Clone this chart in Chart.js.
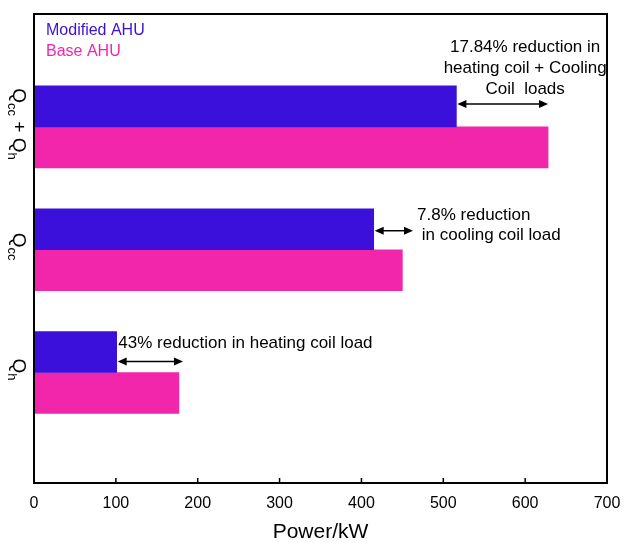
<!DOCTYPE html>
<html><head><meta charset="utf-8">
<script src="https://cdn.jsdelivr.net/npm/chart.js@4/dist/chart.umd.min.js"></script>
<style>html,body{margin:0;padding:0;background:#fff}#wrap{width:625px;height:543px}</style>
</head><body><div id="wrap"><canvas id="c" width="625" height="543"></canvas></div>
<script>
// ---- data ----
const categories = ['Q_h', 'Q_cc', 'Q_cc + Q_h'];
const seriesNames = ['Modified AHU', 'Base AHU'];
const modifiedAHU = [101, 415, 516];
const baseAHU = [177, 450, 628];
const xTicks = [0, 100, 200, 300, 400, 500, 600, 700];
const xTitle = 'Power/kW';
const noteTexts = [
  ['43% reduction in heating coil load'],
  ['7.8% reduction', ' in cooling coil load'],
  ['17.84% reduction in', 'heating coil + Cooling', 'Coil  loads']
];
// arrow ends (data units) per category
const arrowFrom = [101, 415, 516];
const arrowTo = [182, 463, 628];

// ---- style ----
const FONT = "'Liberation Sans', Arial, Helvetica, sans-serif";
const BLUE = '#3B10DA';
const PINK = '#F226AB';
Chart.defaults.font.family = FONT;

const noteStyle = [
  {x: 103, align: 'left', dy: [-29]},
  {x: 468, align: 'left', dy: [-34, -14]},
  {x: 600, align: 'center', dy: [-80, -59, -38]}
];
const arrowDy = [-11, -19, -23];

function drawArrow(ctx, x1, x2, y) {
  const L = 9, W = 4;
  ctx.save();
  ctx.strokeStyle = '#000'; ctx.fillStyle = '#000'; ctx.lineWidth = 1.5;
  ctx.beginPath(); ctx.moveTo(x1 + L - 1, y); ctx.lineTo(x2 - L + 1, y); ctx.stroke();
  ctx.beginPath(); ctx.moveTo(x1, y); ctx.lineTo(x1 + L, y - W); ctx.lineTo(x1 + L, y + W); ctx.closePath(); ctx.fill();
  ctx.beginPath(); ctx.moveTo(x2, y); ctx.lineTo(x2 - L, y - W); ctx.lineTo(x2 - L, y + W); ctx.closePath(); ctx.fill();
  ctx.restore();
}

function drawSubLabel(ctx, text, cx, cy) {
  const parts = text.split(/(_\w+)/).filter(p => p.length);
  const big = '19px ' + FONT, small = '13px ' + FONT;
  let total = 0;
  const items = parts.map(p => {
    const sub = p.startsWith('_');
    const t = sub ? p.slice(1) : p;
    ctx.font = sub ? small : big;
    const w = ctx.measureText(t).width;
    total += w;
    return {t, sub, w};
  });
  ctx.save();
  ctx.translate(cx, cy);
  ctx.rotate(Math.PI / 2);
  ctx.fillStyle = '#000';
  ctx.textBaseline = 'alphabetic';
  ctx.textAlign = 'left';
  let x = -total / 2;
  items.forEach(it => {
    ctx.font = it.sub ? small : big;
    ctx.fillText(it.t, x, it.sub ? 5 : 0);
    x += it.w;
  });
  ctx.restore();
}

const decor = {
  id: 'decor',
  afterDatasetsDraw(chart) {
    const {ctx, chartArea: a, scales: {x, y}} = chart;
    ctx.save();
    // frame
    ctx.strokeStyle = '#000'; ctx.lineWidth = 2;
    ctx.strokeRect(a.left, a.top, a.right - a.left, a.bottom - a.top);
    // inward ticks on bottom axis
    ctx.lineWidth = 1.5;
    xTicks.forEach(v => {
      const px = x.getPixelForValue(v);
      ctx.beginPath(); ctx.moveTo(px, a.bottom); ctx.lineTo(px, a.bottom - 5); ctx.stroke();
    });
    // legend (text only)
    ctx.font = '16px ' + FONT;
    ctx.textBaseline = 'middle'; ctx.textAlign = 'left';
    ctx.fillStyle = BLUE; ctx.fillText(seriesNames[0], 46, 31);
    ctx.fillStyle = PINK; ctx.fillText(seriesNames[1], 46, 52);
    // category labels
    categories.forEach((c, i) => {
      const cy = y.getPixelForValue(i + 1);
      drawSubLabel(ctx, c, 13, cy - 3);
    });
    // annotations
    ctx.font = '17px ' + FONT;
    ctx.fillStyle = '#000';
    noteTexts.forEach((lines, i) => {
      const cy = y.getPixelForValue(i + 1);
      const st = noteStyle[i];
      ctx.textAlign = st.align;
      const px = x.getPixelForValue(st.x);
      lines.forEach((ln, j) => ctx.fillText(ln, px, cy + st.dy[j]));
      drawArrow(ctx, x.getPixelForValue(arrowFrom[i]) + 1, x.getPixelForValue(arrowTo[i]), cy + arrowDy[i]);
    });
    ctx.restore();
  }
};

new Chart(document.getElementById('c'), {
  type: 'bar',
  data: {
    datasets: [
      {label: seriesNames[0], data: categories.map((c, i) => ({x: modifiedAHU[i], y: i + 1})), backgroundColor: BLUE, barThickness: 41},
      {label: seriesNames[1], data: categories.map((c, i) => ({x: baseAHU[i], y: i + 1})), backgroundColor: PINK, barThickness: 41}
    ]
  },
  options: {
    indexAxis: 'y',
    responsive: false,
    animation: false,
    layout: {padding: {left: 0, right: 18, top: 14, bottom: 0}},
    plugins: {legend: {display: false}, tooltip: {enabled: false}},
    scales: {
      x: {
        type: 'linear', min: 0, max: 700,
        afterBuildTicks: s => { s.ticks = xTicks.map(v => ({value: v})); },
        grid: {display: false, drawTicks: false},
        border: {display: false},
        ticks: {color: '#000', font: {size: 16}, padding: 11, maxRotation: 0, autoSkip: false},
        title: {display: true, text: xTitle, color: '#000', font: {size: 21, lineHeight: 1}, padding: {top: 0, bottom: 0}},
        afterFit: s => { s.height = 60; s.paddingLeft = 0; s.paddingRight = 0; }
      },
      y: {
        type: 'linear', min: 0.1, max: 3.92, offset: false,
        afterBuildTicks: s => { s.ticks = categories.map((c, i) => ({value: i + 1})); },
        grid: {display: false, drawTicks: false, offset: false},
        border: {display: false},
        ticks: {display: false},
        afterFit: s => { s.width = 34; s.paddingTop = 0; s.paddingBottom = 0; }
      }
    }
  },
  plugins: [decor]
});
</script>
</body></html>
